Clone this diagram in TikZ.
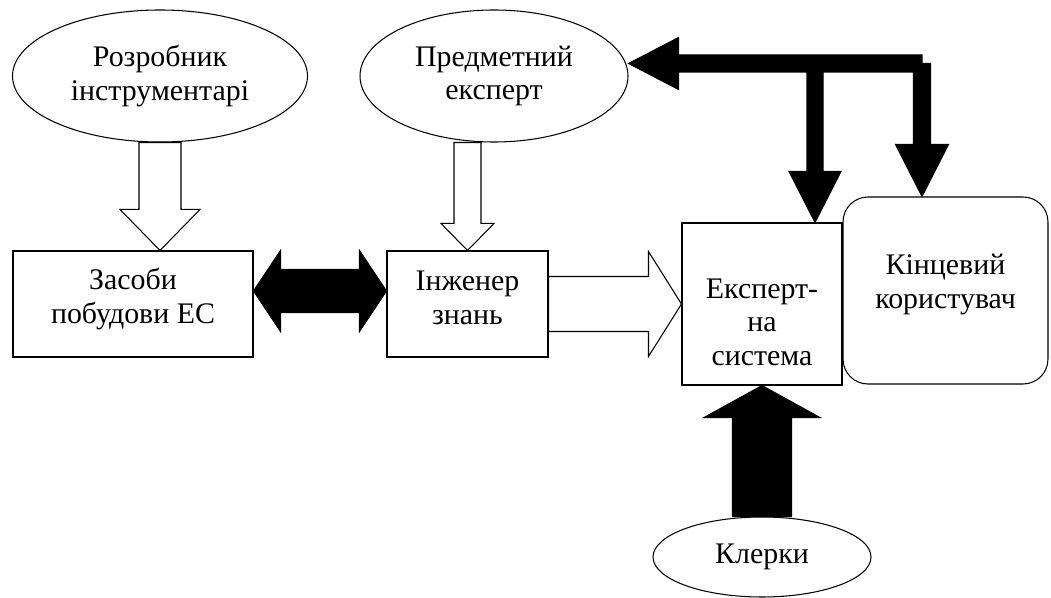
\documentclass[tikz,border=0pt]{standalone}
\usepackage{fontspec}
\setmainfont{Liberation Serif}
\usetikzlibrary{shapes.geometric, calc}
\tikzstyle{oval} = [ellipse, draw, line width=0.6pt, align=center, inner sep=0pt]
\tikzstyle{box} = [rectangle, draw, line width=0.6pt, align=center, inner sep=0pt]
\tikzstyle{roundbox} = [rectangle, rounded corners=0.5cm, draw, line width=0.6pt, align=center, inner sep=0pt]
\tikzstyle{whitearrow} = [draw=black, fill=white, line width=0.6pt, line join=miter]
\tikzstyle{blackarrow} = [draw=black, fill=black, line width=0.6pt, line join=miter]

% block arrow: [style]{from}{to}{half shaft}{half head}{head length}
\newcommand{\fatarrow}[6][]{%
  \coordinate (fa-b) at ($(#3)!#6!(#2)$);
  \draw[#1] ($(#2)!#4!90:(#3)$) -- ($(fa-b)!#4!-90:(#2)$) -- ($(fa-b)!#5!-90:(#2)$) -- (#3)
    -- ($(fa-b)!#5!90:(#2)$) -- ($(fa-b)!#4!90:(#2)$) -- ($(#2)!#4!-90:(#3)$) -- cycle;
}
% block arrow with two heads
\newcommand{\dblarrow}[6][]{%
  \coordinate (da-a) at ($(#2)!#6!(#3)$);
  \coordinate (da-b) at ($(#3)!#6!(#2)$);
  \draw[#1] (#2) -- ($(da-a)!#5!90:(#3)$) -- ($(da-a)!#4!90:(#3)$) -- ($(da-b)!#4!-90:(#2)$)
    -- ($(da-b)!#5!-90:(#2)$) -- (#3) -- ($(da-b)!#5!90:(#2)$) -- ($(da-b)!#4!90:(#2)$)
    -- ($(da-a)!#4!-90:(#3)$) -- ($(da-a)!#5!-90:(#3)$) -- cycle;
}

\begin{document}
\begin{tikzpicture}[font=\fontsize{17}{19}\selectfont]
            \useasboundingbox (0,0) rectangle (21.02,-11.96);
            \node [oval, minimum width=5.9cm, minimum height=2.64cm] at (3.2,-1.52) (dev) {Розробник\\інструментарі};
            \node [oval, minimum width=5.36cm, minimum height=2.64cm] at (9.88,-1.52) (expert) {Предметний\\експерт};
            \node [box, minimum width=4.8cm, minimum height=2.12cm] at (2.66,-6.08) (tools) {};
            \node [align=center] at (2.66,-5.98) (tools-text) {Засоби\\побудови ЕС};
            \node [box, minimum width=3.22cm, minimum height=2.12cm] at (9.35,-6.08) (engineer) {};
            \node [align=center] at (9.35,-5.96) (engineer-text) {Інженер\\знань};
            \node [box, minimum width=3.2cm, minimum height=3.24cm] at (15.24,-6.08) (es) {};
            \node [align=center] at (15.24,-6.44) (es-text) {Експерт-\\на\\система};
            \node [roundbox, minimum width=4.1cm, minimum height=3.74cm] at (18.91,-5.81) (user) {};
            \node [align=center] at (18.91,-5.69) (user-text) {Кінцевий\\користувач};
            \node [oval, minimum width=4.36cm, minimum height=1.6cm] at (15.24,-11.14) (clerk) {Клерки};

            % white arrows
            \fatarrow[whitearrow]{dev.south}{dev.south |- tools.north}{0.42cm}{0.8cm}{0.82cm}
            \fatarrow[whitearrow]{expert.south -| engineer.north}{engineer.north}{0.27cm}{0.53cm}{0.54cm}
            \fatarrow[whitearrow]{engineer.east}{es.west}{0.55cm}{1.05cm}{0.66cm}

            % black arrows
            \coordinate (tools-r) at ($(tools.east)+(0,0.26)$);
            \coordinate (engineer-l) at ($(engineer.west)+(0,0.26)$);
            \dblarrow[blackarrow]{tools-r}{engineer-l}{0.43cm}{0.81cm}{0.54cm}
            \fatarrow[blackarrow]{clerk.north}{es.south}{0.59cm}{1.16cm}{0.64cm}

            \coordinate (corner) at (18.44,-1.27);
            \coordinate (split) at (16.3,-1.27);
            \fatarrow[blackarrow]{corner}{corner -| expert.east}{0.17cm}{0.52cm}{1.0cm}
            \fatarrow[blackarrow]{split}{split |- es.north}{0.16cm}{0.52cm}{1.02cm}
            \fatarrow[blackarrow]{corner}{corner |- user.north}{0.17cm}{0.53cm}{1.04cm}
\end{tikzpicture}
\end{document}
